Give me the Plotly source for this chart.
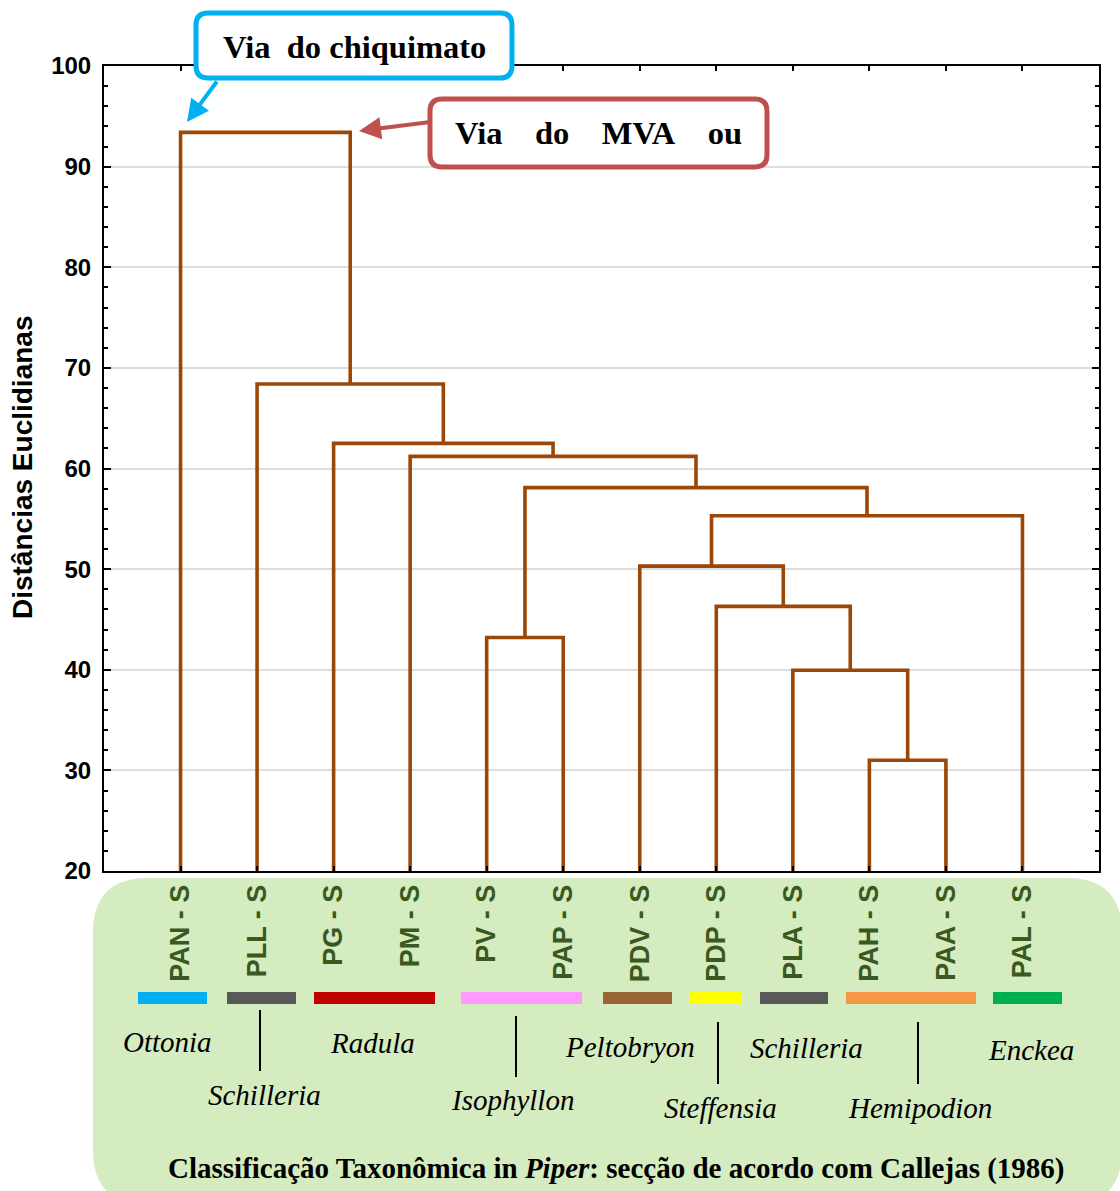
import plotly.graph_objects as go

# ---------------- data ----------------
leaf_labels = ["PAN - S", "PLL - S", "PG - S", "PM - S", "PV - S", "PAP - S",
               "PDV - S", "PDP - S", "PLA - S", "PAH - S", "PAA - S", "PAL - S"]
# merges: (left cluster, right cluster, height); new clusters numbered from 12
merge_left = [9, 8, 4, 7, 6, 16, 14, 3, 2, 1, 0]
merge_right = [10, 12, 5, 13, 15, 11, 17, 18, 19, 20, 21]
merge_height = [31.0, 39.95, 43.2, 46.3, 50.3, 55.3, 58.1, 61.2, 62.5, 68.4, 93.4]

section_names = ["Ottonia", "Schilleria", "Radula", "Isophyllon", "Peltobryon",
                 "Steffensia", "Schilleria", "Hemipodion", "Enckea"]
section_colors = ["#00B0F0", "#595959", "#C00000", "#FF99FF", "#996633",
                  "#FFFF00", "#595959", "#F79646", "#00B050"]

y_title = "Distâncias Euclidianas"
bottom_title = "Classificação Taxonômica in <i>Piper</i>: secção de acordo com Callejas (1986)"
note_blue = "Via\u00a0\u00a0do chiquimato"
note_red = "Via\u00a0\u00a0\u00a0\u00a0do\u00a0\u00a0\u00a0\u00a0MVA\u00a0\u00a0\u00a0\u00a0ou"

# ---------------- dendrogram geometry ----------------
n = len(leaf_labels)
pos = {i: i + 1 for i in range(n)}
hgt = {i: 0.0 for i in range(n)}
xs, ys = [], []
for k, (a, b, h) in enumerate(zip(merge_left, merge_right, merge_height)):
    xs += [pos[a], pos[a], pos[b], pos[b], None]
    ys += [hgt[a], h, h, hgt[b], None]
    pos[n + k] = (pos[a] + pos[b]) / 2
    hgt[n + k] = h

LINE = "#9A4708"

fig = go.Figure()
fig.add_trace(go.Scatter(x=xs, y=ys, mode="lines",
                         line=dict(color=LINE, width=3.6),
                         hoverinfo="skip", showlegend=False))

# ---------------- layout helpers (pixel -> paper) ----------------
W, H = 1120, 1191
L, R, T, B = 104, 1099, 66, 871


def fx(x):
    return (x - L) / (R - L)


def fy(y):
    return (B - y) / (B - T)


def rrect(x0, y0, x1, y1, r):
    pts = [("M", x0 + r, y0), ("L", x1 - r, y0), ("Q", x1, y0, x1, y0 + r),
           ("L", x1, y1 - r), ("Q", x1, y1, x1 - r, y1), ("L", x0 + r, y1),
           ("Q", x0, y1, x0, y1 - r), ("L", x0, y0 + r), ("Q", x0, y0, x0 + r, y0)]
    s = ""
    for p in pts:
        cmd = p[0]
        coords = p[1:]
        parts = []
        for i in range(0, len(coords), 2):
            parts.append(f"{fx(coords[i]):.5f},{fy(coords[i+1]):.5f}")
        s += cmd + " ".join(parts) + " "
    return s + "Z"


shapes = []
annotations = []
SERIF = "Liberation Serif, Times New Roman, serif"
SANS = "Arial, Liberation Sans, sans-serif"

# green background box for taxonomy
shapes.append(dict(type="path", xref="paper", yref="paper", layer="below",
                   path=rrect(93, 878, 1122, 1205, 55),
                   fillcolor="#D5EBC0", line=dict(width=0)))

# colour bars under the leaves
bar_extent = [(138, 207), (227, 296), (314, 435), (461, 582), (603, 672),
              (690, 742), (760, 828), (846, 976), (993, 1062)]
for (x0, x1), c in zip(bar_extent, section_colors):
    shapes.append(dict(type="rect", xref="paper", yref="paper", layer="above",
                       x0=fx(x0), x1=fx(x1), y0=fy(992), y1=fy(1004),
                       fillcolor=c, line=dict(width=0)))

# section names
name_pos = [(167, 1042), (264, 1095), (372, 1043), (512, 1100), (630, 1047),
            (720, 1108), (806, 1048), (920, 1108), (1031, 1050)]
for name, (x, y) in zip(section_names, name_pos):
    annotations.append(dict(text=name, x=fx(x), y=fy(y), xref="paper", yref="paper",
                            showarrow=False, xanchor="center", yanchor="middle",
                            font=dict(family=SERIF, size=29, color="black", style="italic")))

# separator lines
for x, y0, y1 in [(260, 1010, 1071), (516, 1016, 1077), (718, 1022, 1084), (918, 1022, 1084)]:
    shapes.append(dict(type="line", xref="paper", yref="paper", layer="above",
                       x0=fx(x), x1=fx(x), y0=fy(y0), y1=fy(y1),
                       line=dict(color="black", width=2)))

# bottom title
annotations.append(dict(text=bottom_title, x=fx(616), y=fy(1168), xref="paper", yref="paper",
                        showarrow=False, xanchor="center", yanchor="middle",
                        font=dict(family=SERIF, size=29, color="black", weight="bold")))

# callout boxes
shapes.append(dict(type="path", xref="paper", yref="paper", layer="above",
                   path=rrect(196, 13, 512, 78, 12), fillcolor="white",
                   line=dict(color="#00B0F0", width=5)))
shapes.append(dict(type="path", xref="paper", yref="paper", layer="above",
                   path=rrect(430, 99, 767, 167, 12), fillcolor="white",
                   line=dict(color="#C0504D", width=5)))
annotations.append(dict(text=note_blue, x=fx(354), y=fy(47), xref="paper", yref="paper",
                        showarrow=False, xanchor="center", yanchor="middle",
                        font=dict(family=SERIF, size=32.5, color="black", weight="bold")))
annotations.append(dict(text=note_red, x=fx(598), y=fy(133), xref="paper", yref="paper",
                        showarrow=False, xanchor="center", yanchor="middle",
                        font=dict(family=SERIF, size=32.5, color="black", weight="bold")))
# arrows
annotations.append(dict(text="", x=fx(187), y=fy(122), xref="paper", yref="paper",
                        showarrow=True, ax=31, ay=-42, arrowhead=2, arrowsize=1.1,
                        arrowwidth=4, arrowcolor="#00B0F0"))
annotations.append(dict(text="", x=fx(359), y=fy(131), xref="paper", yref="paper",
                        showarrow=True, ax=71, ay=-9, arrowhead=2, arrowsize=1.1,
                        arrowwidth=4, arrowcolor="#C0504D"))

# y-axis title
annotations.append(dict(text=y_title, x=fx(22), y=fy(468), xref="paper", yref="paper",
                        showarrow=False, textangle=-90, xanchor="center", yanchor="middle",
                        font=dict(family=SANS, size=28, color="black", weight="bold")))

fig.update_layout(
    width=W, height=H,
    margin=dict(l=L, r=W - R, t=T, b=H - B),
    paper_bgcolor="white", plot_bgcolor="white",
    showlegend=False,
    shapes=shapes, annotations=annotations,
    xaxis=dict(range=[0, n + 1], tickvals=list(range(1, n + 1)), ticktext=leaf_labels,
               tickangle=-90, ticks="inside", ticklen=5, tickwidth=2, tickcolor="black",
               showline=True, linecolor="black", linewidth=2, mirror="ticks",
               showgrid=False, zeroline=False, ticklabelstandoff=1,
               tickfont=dict(family=SANS, size=27, color="#3A591E", weight="bold")),
    yaxis=dict(range=[20, 100], dtick=10, tick0=0, ticks="inside", ticklen=7,
               tickwidth=2, tickcolor="black",
               minor=dict(dtick=2, ticks="inside", ticklen=4, tickwidth=1.5,
                          tickcolor="black", showgrid=False),
               showline=True, linecolor="black", linewidth=2, mirror="ticks",
               showgrid=True, gridcolor="#DEDEDE", gridwidth=1.5, zeroline=False,
               ticklabelstandoff=6,
               tickfont=dict(family=SANS, size=24, color="black", weight="bold")),
)

fig.write_html("out.html")
